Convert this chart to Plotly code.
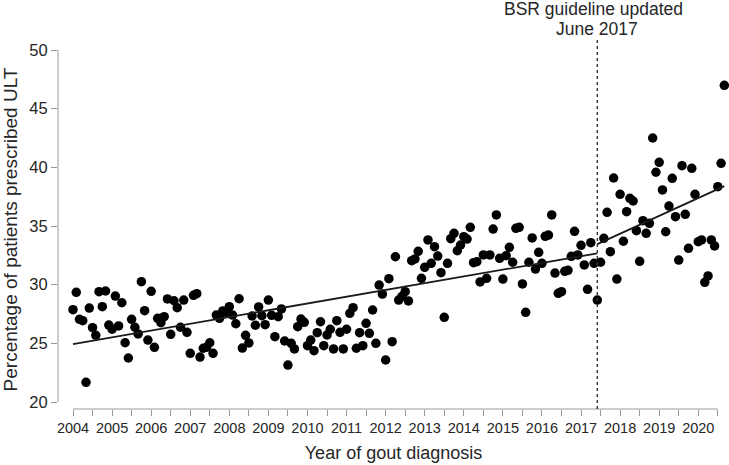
import plotly.graph_objects as go

# ---- data ----
start_year = 2004
pct_ult = [
    27.87, 29.35, 27.05, 26.93, 21.68, 28.01, 26.33, 25.68, 29.40, 28.12, 29.46, 26.56,
    26.20, 29.03, 26.48, 28.46, 25.05, 23.75, 27.05, 26.37, 25.80, 30.25, 27.78, 25.28,
    29.43, 24.66, 27.13, 26.76, 27.27, 28.78, 25.77, 28.63, 28.04, 26.37, 28.69, 25.94,
    24.15, 29.09, 29.23, 23.83, 24.58, 24.66, 25.05, 24.15, 27.41, 27.13, 27.76, 27.64,
    28.12, 27.41, 26.67, 28.80, 24.60, 25.68, 25.03, 27.33, 26.54, 28.10, 27.35, 26.59,
    28.69, 27.39, 25.57, 27.27, 27.93, 25.20, 23.15, 25.00, 24.52, 26.42, 27.07, 26.79,
    24.80, 25.28, 24.37, 25.91, 26.84, 24.80, 25.71, 26.20, 24.52, 26.93, 25.94, 24.52,
    26.20, 27.56, 28.04, 24.58, 25.91, 24.80, 26.71, 25.85, 27.84, 25.00, 29.97, 29.20,
    23.58, 30.51, 25.14, 32.38, 28.69, 29.00, 29.40, 28.61, 32.04, 32.19, 32.84, 30.54,
    31.48, 33.81, 31.82, 33.24, 32.44, 31.02, 27.22, 31.82, 33.92, 34.38, 32.89, 33.38,
    34.09, 33.89, 34.89, 31.87, 31.96, 30.23, 32.53, 30.54, 32.53, 34.74, 35.94, 32.25,
    30.48, 32.47, 33.18, 31.91, 34.80, 34.89, 30.06, 27.64, 31.91, 33.98, 31.33, 32.76,
    31.82, 34.12, 34.23, 35.94, 30.99, 29.26, 29.40, 31.14, 31.22, 32.42, 34.55, 32.53,
    33.35, 31.68, 29.60, 33.58, 31.82, 28.69, 31.91, 33.95, 36.17, 32.81, 39.09, 30.48,
    37.70, 33.70, 36.22, 37.36, 37.13, 34.60, 31.99, 35.45, 34.38, 35.23, 42.50, 39.58,
    40.43, 38.07, 34.51, 36.70, 39.06, 35.79, 32.10, 40.14, 36.00, 33.10, 39.92, 37.70,
    33.66, 33.81, 30.20, 30.74, 33.81, 33.30, 38.35, 40.34, 46.99,
]
months = [start_year + i / 12 for i in range(len(pct_ult))]

guideline_date = 2017 + 5 / 12          # June 2017
guideline_text = ["BSR guideline updated", "June 2017"]
trend_pre_x = [2004.0, guideline_date]
trend_pre_y = [24.94, 32.67]
trend_post_x = [guideline_date, months[-1]]
trend_post_y = [33.45, 38.40]

x_tickvals = [2004 + 0.5 * k for k in range(34)]
x_ticktext = [str(int(v)) if v == int(v) else "" for v in x_tickvals]
y_tickvals = [20, 25, 30, 35, 40, 45, 50]

# ---- figure ----
W, H = 729, 465
L, R, T, B = 58, 0, 50, 56
plot_h = H - T - B
px_per_unit = (402 - 50) / 30.0
y_low = 20 - (409 - 402) / px_per_unit
px_per_year = 39.08
x_left = 2004 - (73 - L) / px_per_year
x_right = 2004 + (W - R - 73) / px_per_year

font_family = "Liberation Sans, Arial, sans-serif"
txt_col = "#262626"
axis_col = "#9a9a9a"

fig = go.Figure()
fig.add_trace(go.Scatter(
    x=months, y=pct_ult, mode="markers",
    marker=dict(color="black", size=9.5, line=dict(width=0)),
    showlegend=False, hoverinfo="x+y", cliponaxis=False,
))
fig.add_trace(go.Scatter(
    x=trend_pre_x, y=trend_pre_y, mode="lines",
    line=dict(color="#1a1a1a", width=1.8), showlegend=False,
))
fig.add_trace(go.Scatter(
    x=trend_post_x, y=trend_post_y, mode="lines",
    line=dict(color="#1a1a1a", width=1.8), showlegend=False,
))

# axis lines (R-style detached axes)
fig.add_shape(type="line", xref="paper", yref="y", x0=0, x1=0,
              y0=y_tickvals[0], y1=y_tickvals[-1],
              line=dict(color=axis_col, width=1))
fig.add_shape(type="line", xref="x", yref="paper", x0=x_tickvals[0], x1=x_tickvals[-1],
              y0=0, y1=0, line=dict(color=axis_col, width=1))

# guideline marker
fig.add_shape(type="line", xref="x", yref="paper", x0=guideline_date, x1=guideline_date,
              y0=0, y1=(H - B - 38) / plot_h,
              line=dict(color="#333333", width=1.4, dash="3px,3px"))
for line_text, y_px, dx in [(guideline_text[0], 9.5, -4), (guideline_text[1], 29.5, 0)]:
    fig.add_annotation(x=guideline_date, xref="x", yref="paper",
                       y=(H - B - y_px) / plot_h, yanchor="middle", xanchor="center",
                       xshift=dx, text=line_text, showarrow=False,
                       font=dict(family=font_family, size=17.5, color=txt_col))

fig.update_xaxes(
    range=[x_left, x_right], showgrid=False, zeroline=False, showline=False,
    automargin=False,
    tickmode="array", tickvals=x_tickvals, ticktext=x_ticktext,
    ticks="outside", ticklen=6, tickcolor=axis_col, tickwidth=1,
    tickfont=dict(family=font_family, size=14.5, color=txt_col),
    title=dict(text="Year of gout diagnosis", standoff=10,
               font=dict(family=font_family, size=18, color=txt_col)),
)
fig.update_yaxes(
    range=[y_low, 50], showgrid=False, zeroline=False, showline=False,
    automargin=False,
    tickmode="array", tickvals=y_tickvals,
    ticks="outside", ticklen=6, tickcolor=axis_col, tickwidth=1,
    tickfont=dict(family=font_family, size=16.5, color=txt_col),
    title=dict(text="Percentage of patients prescribed ULT", standoff=6,
               font=dict(family=font_family, size=19, color=txt_col)),
)
fig.update_layout(
    width=W, height=H, margin=dict(l=L, r=R, t=T, b=B),
    plot_bgcolor="white", paper_bgcolor="white",
)
fig.write_html("out.html", config={"displayModeBar": False},
               post_script="document.body.style.margin='0';"
                           "document.body.style.overflow='hidden';")
